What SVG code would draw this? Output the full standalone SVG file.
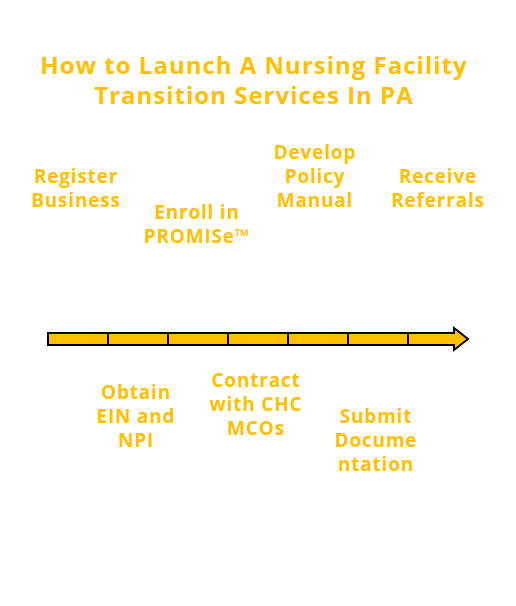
<svg xmlns="http://www.w3.org/2000/svg" width="516" height="606" viewBox="0 0 516 606">
<style>
.t{font-family:"Open Sans","Liberation Sans",sans-serif;font-weight:bold;fill:#FFC000;text-anchor:middle}
.title{font-size:24px;letter-spacing:1px}
.lb{font-size:19px;letter-spacing:0.8px}
.seg{fill:#FFC000;stroke:#000;stroke-width:2}
</style>
<rect width="516" height="606" fill="#fff"/>
<g id="title">
<text class="t title" x="254" y="74">How to Launch A Nursing Facility</text>
<text class="t title" x="254" y="104">Transition Services In PA</text>
</g>
<g id="connectors">
<path class="seg" d="M48,333 H454 V328 L468,339 L454,350 V345 H48 Z"/>
<path d="M108,333V345M168,333V345M228,333V345M288,333V345M348,333V345M408,333V345" stroke="#000" stroke-width="2"/>
</g>
<g id="n1"><text class="t lb" x="76" y="183">Register</text><text class="t lb" x="76" y="207">Business</text></g>
<g id="n2"><text class="t lb" x="136" y="399">Obtain</text><text class="t lb" x="136" y="423">EIN and</text><text class="t lb" x="136" y="447">NPI</text></g>
<g id="n3"><text class="t lb" x="197" y="219">Enroll in</text><text class="t lb" x="197" y="243">PROMISe™</text></g>
<g id="n4"><text class="t lb" x="256" y="387">Contract</text><text class="t lb" x="256" y="411">with CHC</text><text class="t lb" x="256" y="435">MCOs</text></g>
<g id="n5"><text class="t lb" x="315" y="159">Develop</text><text class="t lb" x="315" y="183">Policy</text><text class="t lb" x="315" y="207">Manual</text></g>
<g id="n6"><text class="t lb" x="376" y="423">Submit</text><text class="t lb" x="376" y="447">Docume</text><text class="t lb" x="376" y="471">ntation</text></g>
<g id="n7"><text class="t lb" x="438" y="183">Receive</text><text class="t lb" x="438" y="207">Referrals</text></g>
</svg>
